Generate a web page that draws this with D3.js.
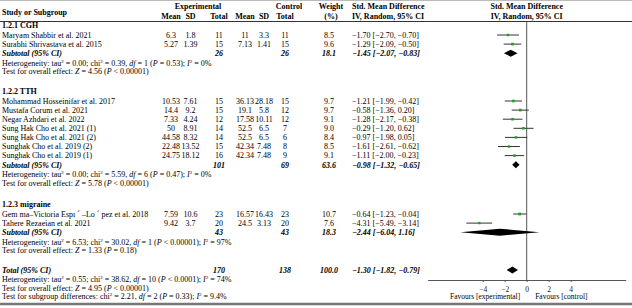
<!DOCTYPE html>
<html>
<head>
<meta charset="utf-8">
<script src="https://cdn.jsdelivr.net/npm/d3@7"></script>
<style>
  body { margin: 0; background: #fff; }
  svg { display: block; font-family: "Liberation Serif", "DejaVu Serif", serif; }
  .b { font-weight: bold; }
  .bi { font-weight: bold; font-style: italic; }
  .i { font-style: italic; }
</style>
</head>
<body>
<script>
// studies, in plot order
const studyNames = [
  'Maryam Shabbir et al. 2021', 'Surabhi Shrivastava et al. 2015',
  'Mohammad Hosseinifar et al. 2017', 'Mustafa Corum et al. 2021', 'Negar Azhdari et al. 2022',
  'Sung Hak Cho et al. 2021 (1)', 'Sung Hak Cho et al. 2021 (2)', 'Sunghak Cho et al. 2019 (2)',
  'Sunghak Cho et al. 2019 (1)',
  'Gem ma–Victoria Espı ´ –Lo ´ pez et al. 2018', 'Tahere Rezaeian et al. 2021'
];
const studyGroup = [0, 0, 1, 1, 1, 1, 1, 1, 1, 2, 2];
const expMean = [6.3, 5.27, 10.53, 14.4, 7.33, 50, 44.58, 22.48, 24.75, 7.59, 9.42];
const expSD = [1.8, 1.39, 7.61, 9.2, 4.24, 8.91, 8.32, 13.52, 18.12, 10.6, 3.7];
const expN = [11, 15, 15, 15, 12, 14, 14, 15, 16, 23, 20];
const ctlMean = [11, 7.13, 36.13, 19.1, 17.58, 52.5, 52.5, 42.34, 42.34, 16.57, 24.5];
const ctlSD = [3.3, 1.41, 28.18, 5.8, 10.11, 6.5, 6.5, 7.48, 7.48, 16.43, 3.13];
const ctlN = [11, 15, 15, 12, 12, 7, 6, 8, 9, 23, 20];
const weights = [8.5, 9.6, 9.7, 9.7, 9.1, 9.0, 8.4, 8.5, 9.1, 10.7, 7.6];
const smd = [-1.70, -1.29, -1.21, -0.58, -1.28, -0.29, -0.97, -1.61, -1.11, -0.64, -4.31];
const smdLo = [-2.70, -2.09, -1.99, -1.36, -2.17, -1.20, -1.98, -2.61, -2.00, -1.23, -5.49];
const smdHi = [-0.70, -0.50, -0.42, 0.20, -0.38, 0.62, 0.05, -0.62, -0.23, -0.04, -3.14];

// subgroups
const groupNames = ['1.2.1 CGH', '1.2.2 TTH', '1.2.3 migraine'];
const groupExpN = [26, 101, 43];
const groupCtlN = [26, 69, 43];
const groupWeight = [18.1, 63.6, 18.3];
const groupSmd = [-1.45, -0.98, -2.44];
const groupLo = [-2.07, -1.32, -6.04];
const groupHi = [-0.83, -0.65, 1.16];
const groupTau = ['0.00', '0.00', '6.53'];
const groupChi = ['0.39', '5.59', '30.02'];
const groupDf = [1, 6, 1];
const groupP = ['= 0.53', '= 0.47', '< 0.00001'];
const groupI2 = ['0%', '0%', '97%'];
const groupZ = ['4.56', '5.78', '1.33'];
const groupZP = ['< 0.00001', '< 0.00001', '= 0.18'];

// overall
const totalExpN = 170, totalCtlN = 138, totalWeight = 100.0;
const totalSmd = -1.30, totalLo = -1.82, totalHi = -0.79;
const totalHet = { tau: '0.55', chi: '38.62', df: 10, p: '< 0.0001', i2: '74%' };
const totalZ = { z: '4.95', p: '< 0.00001' };
const subgroupDiff = { chi: '2.21', df: 2, p: '= 0.33', i2: '9.4%' };

const tickValues = [-4, -2, 0, 2, 4];
const favLeft = 'Favours [experimental]', favRight = 'Favours [control]';

const W = 632, H = 308;
const svg = d3.select('body').append('svg').attr('width', W).attr('height', H);
const fs = 8;

const x = d3.scaleLinear().domain([-9, 9]).range([427.7, 625.7]);
const fmt = d => d3.format('.2f')(d).replace('-', '–');
const ci = (m, l, h) => fmt(m) + ' [' + fmt(l) + ', ' + fmt(h) + ']';

const col = { name: 2, eM: 171, eS: 190.5, eN: 219, cM: 245, cS: 264, cN: 285, w: 329, ci: 352 };

function txt(xp, y, s, cls, anchor) {
  return svg.append('text').attr('x', xp).attr('y', y + 2.8).attr('font-size', fs)
    .attr('class', cls || null).attr('text-anchor', anchor || 'start').text(s);
}
function rich(xp, y, parts) {
  const t = svg.append('text').attr('x', xp).attr('y', y + 2.8).attr('font-size', fs);
  parts.forEach(p => {
    const ts = t.append('tspan').text(p[0]);
    if (p[1] === 'i') ts.attr('font-style', 'italic');
    if (p[1] === 'sup') ts.attr('font-size', 5).attr('dy', -3);
    if (p[1] === 'after') ts.attr('dy', 3);
  });
  return t;
}
function het(y, tau, chi, df, p, i2) {
  rich(col.name, y, [['Heterogeneity: tau'], ['2', 'sup'], [' = ' + tau + '; chi', 'after'], ['2', 'sup'],
    [' = ' + chi + ', ', 'after'], ['df', 'i'], [' = ' + df + ' ('], ['P', 'i'], [' ' + p + '); '], ['I', 'i'],
    ['2', 'sup'], [' = ' + i2, 'after']]);
}
function zline(y, z, p) {
  rich(col.name, y, [['Test for overall effect: '], ['Z', 'i'], [' = ' + z + ' ('], ['P', 'i'], [' ' + p + ')']]);
}
function diamond(y, m, l, h) {
  svg.append('path')
    .attr('d', d3.line()([[x(l), y], [x(m), y - 3.5], [x(h), y], [x(m), y + 3.5]]) + 'Z')
    .attr('fill', '#000');
}

// top and bottom rules
svg.append('line').attr('x1', 0).attr('x2', W).attr('y1', 0.5).attr('y2', 0.5).attr('stroke', '#bbb').attr('stroke-width', 1);
svg.append('line').attr('x1', 0).attr('x2', W).attr('y1', 21.5).attr('y2', 21.5).attr('stroke', '#333').attr('stroke-width', 1);
svg.append('line').attr('x1', 0).attr('x2', W).attr('y1', 304).attr('y2', 304).attr('stroke', '#777').attr('stroke-width', 2.5);

// headers
txt(col.name, 12.5, 'Study or Subgroup', 'b');
txt(198, 6.5, 'Experimental', 'b', 'middle');
txt(289, 6.5, 'Control', 'b', 'middle');
txt(331, 6.5, 'Weight', 'b', 'middle');
txt(col.ci, 6.5, 'Std. Mean Difference', 'b');
txt(x(0), 6.5, 'Std. Mean Difference', 'b', 'middle');
[['Mean', col.eM], ['SD', col.eS], ['Total', col.eN], ['Mean', col.cM], ['SD', col.cS], ['Total', col.cN], ['(%)', 331]]
  .forEach(d => txt(d[1], 16.5, d[0], 'b', 'middle'));
txt(col.ci, 16.5, 'IV, Random, 95% CI', 'b');
txt(x(0), 16.5, 'IV, Random, 95% CI', 'b', 'middle');

// axis
const axisY = 280;
svg.append('line').attr('x1', x(0)).attr('x2', x(0)).attr('y1', 21.5).attr('y2', axisY).attr('stroke', '#555').attr('stroke-width', 1);
const ax = svg.append('g').attr('transform', 'translate(0,' + axisY + ')')
  .call(d3.axisBottom(x).tickValues(tickValues).tickSize(2).tickSizeOuter(0));
ax.select('.domain').attr('stroke', '#555');
ax.selectAll('.tick line').attr('stroke', '#555');
ax.selectAll('.tick text').attr('font-size', 7.5).attr('font-family', '"Liberation Serif", serif').attr('dy', '0.9em').attr('fill', '#222');
txt(x(0) - 6.5, 296.5, favLeft, null, 'end').attr('font-size', 7.5);
txt(x(0) + 8.5, 296.5, favRight).attr('font-size', 7.5);

// rows
const step = 9.1;
const groupTop = [25, 91, 204];
groupNames.forEach((g, gi) => {
  let y = groupTop[gi];
  txt(col.name, y, g, 'b');
  y += 10;
  studyNames.forEach((n, i) => {
    if (studyGroup[i] !== gi) return;
    txt(col.name, y, n);
    txt(col.eM, y, String(expMean[i]), null, 'middle');
    txt(col.eS, y, String(expSD[i]), null, 'middle');
    txt(col.eN, y, String(expN[i]), null, 'middle');
    txt(col.cM, y, String(ctlMean[i]), null, 'middle');
    txt(col.cS, y, String(ctlSD[i]), null, 'middle');
    txt(col.cN, y, String(ctlN[i]), null, 'middle');
    txt(col.w, y, weights[i].toFixed(1), null, 'middle');
    txt(col.ci, y, ci(smd[i], smdLo[i], smdHi[i]));
    svg.append('line').attr('x1', x(smdLo[i])).attr('x2', x(smdHi[i])).attr('y1', y).attr('y2', y)
      .attr('stroke', '#333').attr('stroke-width', 1);
    const s = Math.sqrt(weights[i]) * 0.85;
    svg.append('rect').attr('x', x(smd[i]) - s / 2).attr('y', y - s / 2).attr('width', s).attr('height', s)
      .attr('fill', '#21a121');
    y += step;
  });
  txt(col.name, y, 'Subtotal (95% CI)', 'bi');
  txt(col.eN, y, String(groupExpN[gi]), 'bi', 'middle');
  txt(col.cN, y, String(groupCtlN[gi]), 'bi', 'middle');
  txt(col.w, y, groupWeight[gi].toFixed(1), 'bi', 'middle');
  txt(col.ci, y, ci(groupSmd[gi], groupLo[gi], groupHi[gi]), 'bi');
  diamond(y, groupSmd[gi], groupLo[gi], groupHi[gi]);
  y += 9.5;
  het(y, groupTau[gi], groupChi[gi], groupDf[gi], groupP[gi], groupI2[gi]);
  y += 8.5;
  zline(y, groupZ[gi], groupZP[gi]);
});

// total
let ty = 270;
txt(col.name, ty, 'Total (95% CI)', 'bi');
txt(col.eN, ty, String(totalExpN), 'bi', 'middle');
txt(col.cN, ty, String(totalCtlN), 'bi', 'middle');
txt(col.w, ty, totalWeight.toFixed(1), 'bi', 'middle');
txt(col.ci, ty, ci(totalSmd, totalLo, totalHi), 'bi');
diamond(ty, totalSmd, totalLo, totalHi);
ty += 9.5;
het(ty, totalHet.tau, totalHet.chi, totalHet.df, totalHet.p, totalHet.i2);
ty += 8.5;
zline(ty, totalZ.z, totalZ.p);
ty += 8.5;
rich(col.name, ty, [['Test for subgroup differences: chi'], ['2', 'sup'], [' = ' + subgroupDiff.chi + ', ', 'after'],
  ['df', 'i'], [' = ' + subgroupDiff.df + ' ('], ['P', 'i'], [' ' + subgroupDiff.p + '); '], ['I', 'i'], ['2', 'sup'],
  [' = ' + subgroupDiff.i2, 'after']]);
</script>
</body>
</html>
